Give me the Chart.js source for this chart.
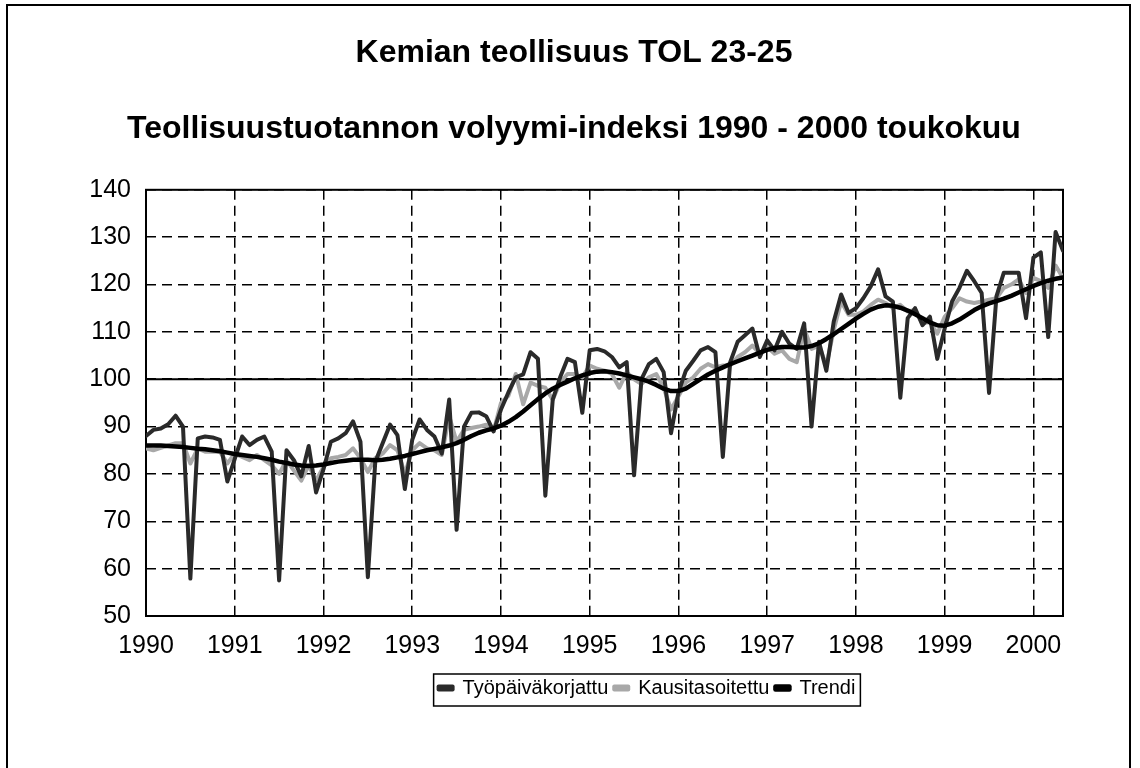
<!DOCTYPE html>
<html>
<head>
<meta charset="utf-8">
<script src="https://cdn.jsdelivr.net/npm/chart.js@4/dist/chart.umd.min.js"></script>
<style>
  html, body { margin: 0; padding: 0; background: #fff; }
  canvas { display: block; }
</style>
</head>
<body>
<canvas id="chart" width="1140" height="768"></canvas>
<script>
// tick labels on the time axis (one per January)
var years = ['1990', '1991', '1992', '1993', '1994', '1995', '1996', '1997', '1998', '1999', '2000'];

// monthly categories, Jan 1990 .. May 2000
var months = [];
for (var yy = 1990; yy <= 2000; yy++) {
  for (var mm = 1; mm <= 12; mm++) {
    if (yy === 2000 && mm > 5) break;
    months.push(yy + '-' + (mm < 10 ? '0' + mm : mm));
  }
}

var yTicks = [50, 60, 70, 80, 90, 100, 110, 120, 130, 140];

// Työpäiväkorjattu
var tyopaiva = [
  88.0, 89.3, 89.6, 90.5, 92.3, 90.0, 57.9, 87.5, 87.9, 87.7, 87.2, 78.4,
  83.2, 87.9, 86.1, 87.2, 87.9, 84.7, 57.5, 85.0, 82.9, 79.5, 85.9, 76.1,
  81.0, 86.8, 87.5, 88.6, 91.1, 86.8, 58.2, 82.5, 86.5, 90.4, 88.2, 76.8,
  87.2, 91.5, 89.3, 87.9, 84.3, 95.7, 68.2, 90.0, 92.9, 93.0, 92.2, 89.0,
  93.6, 97.2, 100.4, 101.0, 105.7, 104.3, 75.4, 95.7, 100.4, 104.3, 103.6, 92.9,
  106.1, 106.4, 105.9, 104.7, 102.5, 103.6, 79.7, 100.0, 103.2, 104.3, 101.5, 88.6,
  97.2, 101.8, 103.9, 106.1, 106.8, 105.7, 83.6, 103.6, 107.9, 109.3, 110.7, 104.7,
  108.2, 106.1, 110.0, 107.5, 106.4, 111.8, 90.0, 107.9, 101.8, 112.2, 117.9, 114.0,
  115.0, 117.1, 119.6, 123.2, 117.5, 116.4, 96.1, 112.9, 115.0, 111.4, 113.2, 104.3,
  110.7, 116.4, 119.3, 122.9, 120.7, 118.2, 97.1, 117.5, 122.5, 122.5, 122.5, 112.9,
  125.7, 126.8, 108.9, 131.1, 127.1
];

// Kausitasoitettu
var kausi = [
  85.4, 85.0, 85.5, 86.0, 86.5, 86.5, 82.2, 85.4, 84.7, 84.7, 84.7, 82.2,
  84.3, 83.6, 82.9, 84.0, 82.9, 81.8, 80.0, 82.9, 80.7, 78.6, 81.8, 78.6,
  81.5, 83.3, 83.6, 84.0, 85.4, 83.3, 80.4, 83.3, 84.3, 86.1, 85.0, 80.0,
  85.0, 86.5, 85.4, 85.0, 84.0, 92.2, 86.8, 89.3, 89.7, 90.0, 90.4, 89.0,
  95.0, 96.5, 101.1, 94.7, 99.3, 98.6, 98.2, 95.7, 99.3, 101.1, 101.1, 100.4,
  102.9, 102.2, 101.8, 101.1, 98.2, 101.5, 100.0, 99.0, 100.4, 101.1, 98.2, 93.6,
  96.4, 99.3, 100.4, 102.2, 103.2, 102.5, 102.9, 102.9, 104.7, 105.7, 107.1, 105.4,
  106.8, 105.4, 106.1, 104.3, 103.6, 110.7, 106.4, 107.1, 102.9, 110.4, 116.4, 113.6,
  113.6, 114.3, 115.7, 116.8, 116.1, 115.0, 115.7, 114.3, 114.6, 111.8, 112.1, 109.6,
  113.2, 115.0, 117.1, 116.4, 116.1, 116.4, 116.8, 117.1, 119.3, 120.0, 121.1, 118.2,
  121.4, 120.7, 119.3, 124.0, 121.4
];

// Trendi
var trendi = [
  86.0, 86.0, 86.0, 85.9, 85.8, 85.7, 85.5, 85.3, 85.2, 85.0, 84.8, 84.5,
  84.2, 84.0, 83.8, 83.6, 83.3, 83.0, 82.6, 82.3, 82.0, 81.8, 81.7, 81.8,
  82.0, 82.3, 82.6, 82.8, 83.0, 83.0, 83.0, 82.9, 83.0, 83.2, 83.5, 83.8,
  84.2, 84.6, 85.0, 85.3, 85.6, 86.0, 86.5, 87.2, 88.0, 88.7, 89.2, 89.6,
  90.2, 91.0, 92.0, 93.2, 94.5, 95.8, 97.0, 98.0, 98.8, 99.5, 100.2, 100.8,
  101.3, 101.6, 101.7, 101.5, 101.2, 100.8, 100.4, 100.0, 99.5, 98.8, 98.0, 97.5,
  97.5, 98.0, 99.0, 100.0, 101.0, 101.8, 102.5, 103.2, 103.8, 104.4, 105.0, 105.6,
  106.2, 106.6, 106.8, 106.8, 106.7, 106.7, 107.0, 107.6, 108.5, 109.5, 110.6, 111.7,
  112.8, 113.8, 114.7, 115.3, 115.6, 115.5, 115.1, 114.5, 113.7, 112.9, 112.0, 111.4,
  111.3, 111.8, 112.6, 113.6, 114.6, 115.4, 116.0, 116.5, 117.0, 117.6, 118.3, 119.0,
  119.7, 120.3, 120.8, 121.2, 121.5
];

var FONT = "'Liberation Sans', Arial, Helvetica, sans-serif";

function toPoints(arr) {
  return arr.map(function (v, i) { return { x: i, y: v }; });
}

// frame, plot box, solid 100-line, legend box, re-centred titles
var framePlugin = {
  id: 'frame',
  afterLayout: function (chart) {
    var l = chart.legend;
    var shift = 647 - (l.left + l.right) / 2;
    l.left += shift;
    l.right += shift;
    chart.boxes.forEach(function (b) {
      if (b === l || b.isHorizontal === undefined || !b.options || b.options.text === undefined) return;
      var s = 574 - (b.left + b.right) / 2;
      b.left += s;
      b.right += s;
    });
  },
  beforeDatasetsDraw: function (chart) {
    var ctx = chart.ctx, a = chart.chartArea;
    var y100 = chart.scales.y.getPixelForValue(100);
    ctx.save();
    ctx.strokeStyle = '#000';
    ctx.lineWidth = 2;
    ctx.beginPath();
    ctx.moveTo(a.left, y100);
    ctx.lineTo(a.right, y100);
    ctx.stroke();
    ctx.strokeRect(a.left, a.top, a.right - a.left, a.bottom - a.top);
    ctx.restore();
  },
  afterDraw: function (chart) {
    var ctx = chart.ctx, l = chart.legend;
    var p = l.options.labels.padding;
    var lw = l.lineWidths[0];
    var x0 = (l.left + p + l.right - lw) / 2;
    var x1 = x0 + lw - p;
    var yc = l.top + p + 12;
    ctx.save();
    ctx.strokeStyle = '#000';
    ctx.lineWidth = 2;
    ctx.strokeRect(7, 5, 1123, 800);
    ctx.lineWidth = 1.5;
    ctx.strokeRect(x0 - 5, yc - 16, x1 - x0 + 10, 32);
    ctx.restore();
  }
};

var ctx = document.getElementById('chart');
var chart = new Chart(ctx, {
  type: 'line',
  data: {
    datasets: [{
      label: 'Työpäiväkorjattu',
      data: toPoints(tyopaiva),
      borderColor: '#2a2a2a',
      backgroundColor: '#2a2a2a',
      borderWidth: 4,
      order: 1
    }, {
      label: 'Kausitasoitettu',
      data: toPoints(kausi),
      borderColor: '#a8a8a8',
      backgroundColor: '#a8a8a8',
      borderWidth: 4,
      order: 2
    }, {
      label: 'Trendi',
      data: toPoints(trendi),
      borderColor: '#000',
      backgroundColor: '#000',
      borderWidth: 4.5,
      order: 0
    }]
  },
  options: {
    responsive: false,
    devicePixelRatio: 1,
    animation: false,
    elements: {
      point: { radius: 0 },
      line: { tension: 0, borderJoinStyle: 'round', borderCapStyle: 'round' }
    },
    layout: { padding: { left: 0, right: 77, top: 0, bottom: 60 } },
    plugins: {
      tooltip: { enabled: false },
      title: {
        display: true,
        text: 'Kemian teollisuus TOL 23-25',
        color: '#000',
        font: { family: FONT, size: 32, weight: 'bold' },
        padding: { top: 34, bottom: 38 }
      },
      subtitle: {
        display: true,
        text: 'Teollisuustuotannon volyymi-indeksi 1990 - 2000 toukokuu',
        color: '#000',
        font: { family: FONT, size: 32, weight: 'bold' },
        padding: { top: 0, bottom: 41 }
      },
      legend: {
        position: 'bottom',
        align: 'center',
        labels: {
          color: '#000',
          font: { family: FONT, size: 20 },
          boxWidth: 14,
          boxHeight: 3,
          padding: 6,
          sort: function (a, b) { return a.datasetIndex - b.datasetIndex; }
        }
      }
    },
    scales: {
      x: {
        type: 'linear',
        min: 0,
        max: months.length - 1,
        afterFit: function (s) { s.height = 56; },
        ticks: {
          stepSize: 12,
          includeBounds: false,
          autoSkip: false,
          maxRotation: 0,
          padding: 15,
          color: '#000',
          font: { family: FONT, size: 25 },
          callback: function (v) { return v % 12 === 0 ? years[v / 12] : null; }
        },
        grid: { color: '#000', lineWidth: 1.5, drawTicks: false },
        border: { display: false, dash: [10, 6] }
      },
      y: {
        min: yTicks[0],
        max: yTicks[yTicks.length - 1],
        afterFit: function (s) { s.width = 146; },
        afterBuildTicks: function (s) {
          s.ticks = yTicks.map(function (v) { return { value: v }; });
        },
        ticks: {
          padding: 15,
          color: '#000',
          font: { family: FONT, size: 25 }
        },
        grid: { color: '#000', lineWidth: 1.5, drawTicks: false },
        border: { display: false, dash: [10, 6] }
      }
    }
  },
  plugins: [framePlugin]
});
</script>
</body>
</html>
